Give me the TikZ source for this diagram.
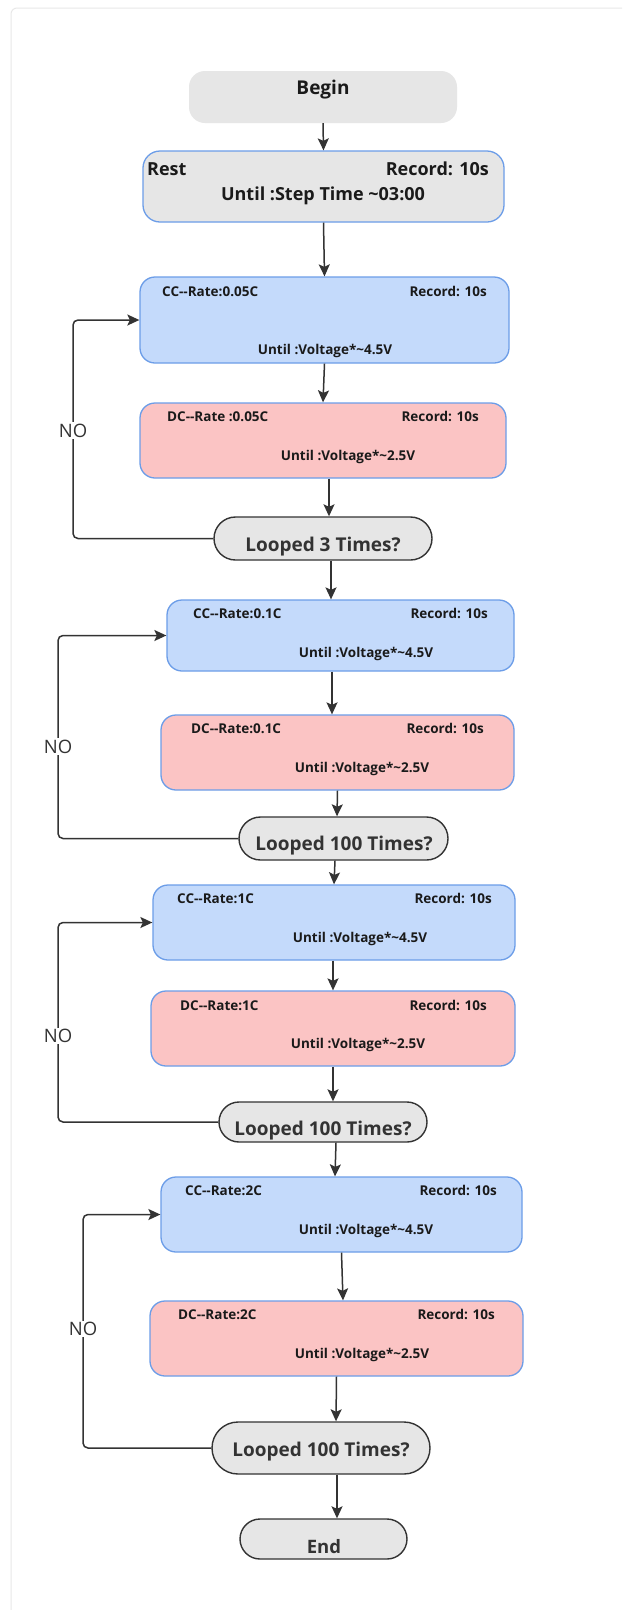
\documentclass[tikz,border=0pt]{standalone}
\usepackage{fontspec}
\setmainfont{Open Sans}
\usetikzlibrary{arrows.meta}
\definecolor{boxgray}{HTML}{E6E6E6}
\definecolor{ccblue}{HTML}{C4DAFB}
\definecolor{dcpink}{HTML}{FBC4C4}
\definecolor{bordblue}{HTML}{6C9DE8}
\definecolor{ink}{HTML}{333333}
\definecolor{txt}{HTML}{1A1A1A}
\definecolor{framegray}{HTML}{E8E8E8}
\newcommand\dd{-\kern0pt-}
\tikzset{
  stepbox/.style={draw=bordblue, line width=1.3pt, rounded corners=15pt, inner sep=0pt},
  ccbox/.style={stepbox, fill=ccblue},
  dcbox/.style={stepbox, fill=dcpink},
  loopbox/.style={draw=ink, line width=1.4pt, fill=boxgray, inner sep=0pt},
  arr/.style={draw=ink, line width=1.5pt, -{Stealth[length=12pt,width=11pt,inset=2.5pt]}},
  small/.style={inner sep=0pt, text=txt, font=\bfseries\fontsize{13.5}{16}\selectfont},
  big/.style={inner sep=0pt, text=txt, font=\bfseries\fontsize{18}{22}\selectfont},
  looptxt/.style={inner sep=0pt, text=ink, font=\bfseries\fontsize{19}{23}\selectfont},
  nolbl/.style={inner sep=1.5pt, fill=white, text=ink, font=\fontsize{18.5}{22}\selectfont},
}
\begin{document}
\begin{tikzpicture}[x=1pt,y=-1pt]
\useasboundingbox (0,0) rectangle (622,1610);
\fill[white] (0,0) rectangle (622,1610);
\draw[framegray, line width=1pt, rounded corners=6pt] (11,1610) -- (11,8) -- (622,8);

% boxes
\node[fill=boxgray, rounded corners=16pt, minimum width=268pt, minimum height=52pt, inner sep=0pt] (begin) at (323,97) {};
\node[stepbox, fill=boxgray, rounded corners=17pt, minimum width=361pt, minimum height=71pt] (rest) at (323.5,186.5) {};
\node[ccbox, minimum width=369pt, minimum height=86pt] (cc1) at (324.5,320) {};
\node[dcbox, minimum width=366pt, minimum height=75pt] (dc1) at (323,440.5) {};
\node[loopbox, rounded corners=21.5pt, minimum width=218pt, minimum height=43pt] (loop1) at (323,538.5) {};
\node[ccbox, minimum width=347pt, minimum height=71pt] (cc2) at (340.5,635.5) {};
\node[dcbox, minimum width=353pt, minimum height=75pt] (dc2) at (337.5,752.5) {};
\node[loopbox, rounded corners=21.5pt, minimum width=209pt, minimum height=43pt] (loop2) at (343.5,838.5) {};
\node[ccbox, minimum width=362pt, minimum height=75pt] (cc3) at (334,922.5) {};
\node[dcbox, minimum width=364pt, minimum height=75pt] (dc3) at (333,1028.5) {};
\node[loopbox, rounded corners=20pt, minimum width=208pt, minimum height=40pt] (loop3) at (323,1122) {};
\node[ccbox, minimum width=361pt, minimum height=75pt] (cc4) at (341.5,1214.5) {};
\node[dcbox, minimum width=373pt, minimum height=75pt] (dc4) at (336.5,1338.5) {};
\node[loopbox, rounded corners=26pt, minimum width=218pt, minimum height=52pt] (loop4) at (321,1448) {};
\node[loopbox, rounded corners=20pt, minimum width=167pt, minimum height=40pt] (end) at (323.5,1539) {};

% texts
\node[inner sep=0pt, text=txt, font=\bfseries\fontsize{19}{23}\selectfont, anchor=base] (begint) at (323,94) {Begin};
\node[big, anchor=base west] (resta) at (147,175) {Rest};
\node[big, anchor=base east] (restb) at (489,175) {Record: 10s};
\node[big, anchor=base] (restc) at (323,200.5) {Until :Step Time \textasciitilde03:00};

\node[small, anchor=base west] (cc1a) at (162,296) {CC\dd Rate:0.05C};
\node[small, anchor=base east] (cc1b) at (487,296) {Record: 10s};
\node[small, anchor=base] (cc1c) at (325,354) {Until :Voltage*\textasciitilde4.5V};
\node[small, anchor=base west] (dc1a) at (167,421.5) {DC\dd Rate :0.05C};
\node[small, anchor=base east] (dc1b) at (479,421.5) {Record: 10s};
\node[small, anchor=base] (dc1c) at (348,460) {Until :Voltage*\textasciitilde2.5V};
\node[looptxt, anchor=base] (loop1t) at (323,551.5) {Looped 3 Times?};

\node[small, anchor=base west] (cc2a) at (193,618.3) {CC\dd Rate:0.1C};
\node[small, anchor=base east] (cc2b) at (488,618.3) {Record: 10s};
\node[small, anchor=base] (cc2c) at (366,657.3) {Until :Voltage*\textasciitilde4.5V};
\node[small, anchor=base west] (dc2a) at (191,733.3) {DC\dd Rate:0.1C};
\node[small, anchor=base east] (dc2b) at (484,733.3) {Record: 10s};
\node[small, anchor=base] (dc2c) at (362,772.7) {Until :Voltage*\textasciitilde2.5V};
\node[looptxt, anchor=base] (loop2t) at (344,850.7) {Looped 100 Times?};

\node[small, anchor=base west] (cc3a) at (177,903.3) {CC\dd Rate:1C};
\node[small, anchor=base east] (cc3b) at (492,903.3) {Record: 10s};
\node[small, anchor=base] (cc3c) at (360,942.3) {Until :Voltage*\textasciitilde4.5V};
\node[small, anchor=base west] (dc3a) at (180,1010) {DC\dd Rate:1C};
\node[small, anchor=base east] (dc3b) at (487,1010) {Record: 10s};
\node[small, anchor=base] (dc3c) at (358,1048.3) {Until :Voltage*\textasciitilde2.5V};
\node[looptxt, anchor=base] (loop3t) at (323,1135.7) {Looped 100 Times?};

\node[small, anchor=base west] (cc4a) at (185,1195) {CC\dd Rate:2C};
\node[small, anchor=base east] (cc4b) at (497,1195) {Record: 10s};
\node[small, anchor=base] (cc4c) at (366,1234) {Until :Voltage*\textasciitilde4.5V};
\node[small, anchor=base west] (dc4a) at (178,1319) {DC\dd Rate:2C};
\node[small, anchor=base east] (dc4b) at (495,1319) {Record: 10s};
\node[small, anchor=base] (dc4c) at (362,1358.3) {Until :Voltage*\textasciitilde2.5V};
\node[looptxt, anchor=base] (loop4t) at (321,1456) {Looped 100 Times?};
\node[looptxt, anchor=base, font=\bfseries\fontsize{18.5}{22}\selectfont] (endt) at (324,1553.3) {End};

% main flow
\draw[arr] (begin.south) -- (rest.north);
\draw[arr] (rest.south) -- (cc1.north);
\draw[arr] (cc1.south) -- (dc1.north);
\draw[arr] ([xshift=6pt]dc1.south) -- ([xshift=6pt]loop1.north);
\draw[arr] ([xshift=8pt]loop1.south) -- ([xshift=-9.5pt]cc2.north);
\draw[arr] ([xshift=-8.5pt]cc2.south) -- ([xshift=-5.5pt]dc2.north);
\draw[arr] (dc2.south) -- ([xshift=-6.5pt]loop2.north);
\draw[arr] ([xshift=-8.5pt]loop2.south) -- (cc3.north);
\draw[arr] ([xshift=-1pt]cc3.south) -- (dc3.north);
\draw[arr] (dc3.south) -- ([xshift=10pt]loop3.north);
\draw[arr] ([xshift=13pt]loop3.south) -- ([xshift=-6.5pt]cc4.north);
\draw[arr] (cc4.south) -- ([xshift=6.5pt]dc4.north);
\draw[arr] (dc4.south) -- ([xshift=15pt]loop4.north);
\draw[arr] ([xshift=16pt]loop4.south) -- ([xshift=13.5pt]end.north);

% loop-backs
\coordinate (k1) at (73,430);
\coordinate (k2) at (58,746);
\coordinate (k3) at (58,1036);
\coordinate (k4) at (83,1328);
\draw[arr, rounded corners=5pt] (loop1.west) -| (k1) |- (cc1.west);
\draw[arr, rounded corners=5pt] (loop2.west) -| (k2) |- (cc2.west);
\draw[arr, rounded corners=5pt] (loop3.west) -| (k3) |- (cc3.west);
\draw[arr, rounded corners=5pt] (loop4.west) -| (k4) |- (cc4.west);
\node[nolbl, anchor=base] (no1) at (73,437.3) {NO};
\node[nolbl, anchor=base] (no2) at (58,753.3) {NO};
\node[nolbl, anchor=base] (no3) at (58,1042.7) {NO};
\node[nolbl, anchor=base] (no4) at (83,1335.7) {NO};
\end{tikzpicture}
\end{document}
